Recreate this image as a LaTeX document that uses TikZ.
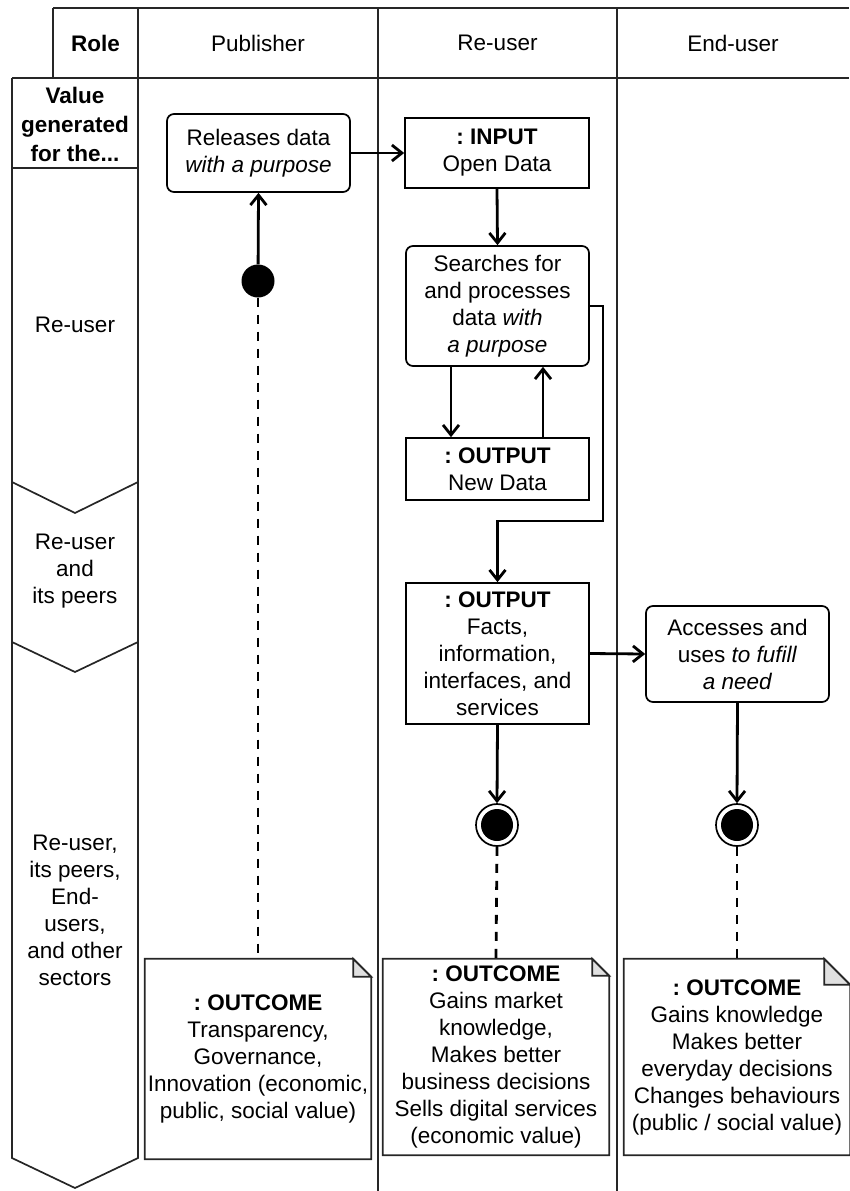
\documentclass[tikz,border=0pt]{standalone}
\usepackage{fontspec}
\setmainfont{Liberation Sans}
\usetikzlibrary{arrows.meta,calc}
\frenchspacing
\begin{document}
\begin{tikzpicture}[x=1pt,y=-1pt,
  txt/.style={font=\fontsize{22.5}{27}\selectfont, align=center, inner sep=0pt},
  grid/.style={line width=1.7pt, draw=black!85},
  box/.style={txt, draw, line width=1.7pt, minimum width=183pt},
  rbox/.style={box, rounded corners=7pt},
  arr/.style={line width=2.8pt, -{Straight Barb[length=10pt,width=16pt]}},
  dashlink/.style={line width=2.8pt, dash pattern=on 9pt off 8pt},
  notebox/.style={txt, minimum width=226pt},
  startc/.style={circle, fill=black, minimum size=33pt, inner sep=0pt},
  endc/.style={circle, draw, line width=1.7pt, fill=white, minimum size=42pt, inner sep=0pt}
]
\useasboundingbox (0,0) rectangle (849,1191);

% swimlane table
\draw[grid] (53,8) -- (849,8);
\draw[grid] (53,8) -- (53,78);
\draw[grid] (12,78) -- (849,78);
\draw[grid] (12,78) -- (12,1158) -- (75,1188) -- (138,1158) -- (138,8);
\draw[grid] (378,8) -- (378,1191);
\draw[grid] (617,8) -- (617,1191);
\draw[grid] (12,168) -- (138,168);
\draw[grid] (12,482) -- (75,513) -- (138,482);
\draw[grid] (12,642) -- (75,672) -- (138,642);

% header labels
\node[txt, font=\fontsize{22.5}{27}\selectfont\bfseries] (hrole) at (95.5,43) {Role};
\node[txt] (hpub) at (258,43) {Publisher};
\node[txt] (hreu) at (497.5,43) {Re-user};
\node[txt] (hend) at (733,43) {End-user};

% value column labels
\node[txt, font=\fontsize{22.5}{29}\selectfont\bfseries] (vhead) at (75,124) {Value\\generated\\for the...};
\node[txt] (v1) at (75,325) {Re-user};
\node[txt] (v2) at (75,571) {Re-user\\and\\its peers};
\node[txt] (v3) at (75,910) {Re-user,\\its peers,\\End-\\users,\\and other\\sectors};

% activities and objects
\node[rbox, minimum height=78pt] (rel) at (258.5,153) {Releases data\\\textit{with a purpose}};
\node[box, minimum width=184pt, minimum height=70pt] (inp) at (497,153) {\textbf{: INPUT}\\Open Data};
\node[rbox, minimum height=120pt] (srch) at (497.5,306) {Searches for\\and processes\\data \textit{with}\\\textit{a purpose}};
\node[box, minimum height=62pt] (newd) at (497.5,469) {\textbf{: OUTPUT}\\New Data};
\node[box, minimum height=141pt] (facts) at (497.5,653.5) {\textbf{: OUTPUT}\\Facts,\\information,\\interfaces, and\\services};
\node[rbox, minimum height=96pt] (acc) at (737.5,654) {Accesses and\\uses \textit{to fufill}\\\textit{a need}};

% start and end points
\node[startc] (st) at (258,281) {};
\node[endc] (e1) at (497,825) {};
\node[endc] (e2) at (737,825) {};
\fill (e1.center) circle[radius=16pt];
\fill (e2.center) circle[radius=16pt];

% outcome notes
\node[notebox, minimum height=200pt] (n1) at (258,1059) {\textbf{: OUTCOME}\\Transparency,\\Governance,\\Innovation (economic,\\public, social value)};
\node[notebox, minimum height=196pt] (n2) at (496,1057) {\textbf{: OUTCOME}\\Gains market\\knowledge,\\Makes better\\business decisions\\Sells digital services\\(economic value)};
\node[notebox, minimum height=196pt] (n3) at (737,1057) {\textbf{: OUTCOME}\\Gains knowledge\\Makes better\\everyday decisions\\Changes behaviours\\(public / social value)};
\foreach \n/\f in {n1/18, n2/17, n3/26} {
  \draw[grid] (\n.north west) -- ([xshift=-\f pt]\n.north east) -- ([yshift=-\f pt]\n.north east)
    -- (\n.south east) -- (\n.south west) -- cycle;
  \draw[grid, fill=black!12] ([xshift=-\f pt]\n.north east) -- ([xshift=-\f pt, yshift=-\f pt]\n.north east)
    -- ([yshift=-\f pt]\n.north east) -- cycle;
}

% flows
\draw[arr] (st) -- (rel.south);
\draw[arr] (rel.east) -- (inp.west);
\draw[arr] (inp.south) -- (srch.north);
\draw[arr] (451,0 |- srch.south) -- (451,0 |- newd.north);
\draw[arr] (543,0 |- newd.north) -- (543,0 |- srch.south);
\coordinate (elbow) at (603,521);
\draw[arr] (srch.east) -| (elbow) -| (facts.north);
\draw[arr] (facts.east) -- (acc.west);
\draw[arr] (facts.south) -- (e1.north);
\draw[arr] (acc.south) -- (e2.north);

% links to outcomes
\draw[dashlink] (st.south) -- (n1.north);
\draw[dashlink] (e1.south) -- (n2.north);
\draw[dashlink] (e2.south) -- (n3.north);
\end{tikzpicture}
\end{document}
